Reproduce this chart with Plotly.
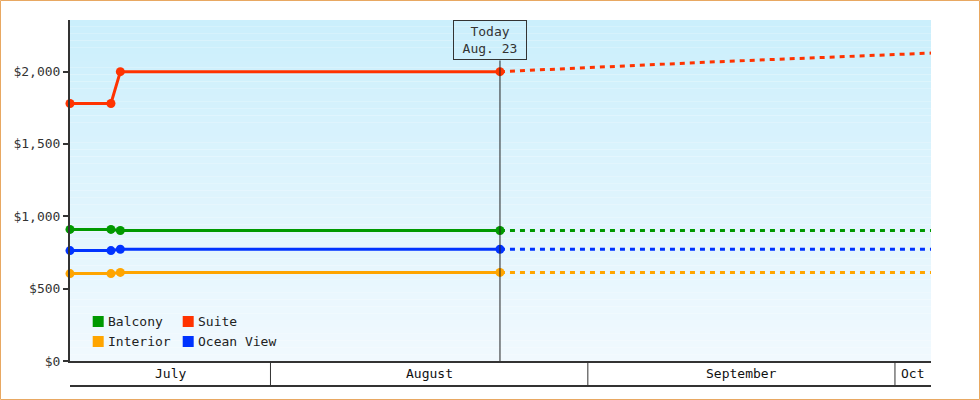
import pandas as pd
import plotly.graph_objects as go

# dados
series = ["Balcony", "Suite", "Interior", "Ocean View"]
colors = ["#009900", "#ff3300", "#ffa500", "#0033ff"]

actual_dates = ["2023-07-12 10:00", "2023-07-16 10:00", "2023-07-17 08:00", "2023-08-23 10:00"]
balcony = [909, 909, 902, 902]
suite = [1779, 1779, 1999, 1999]
interior = [604, 604, 612, 612]
ocean_view = [763, 763, 772, 772]

forecast_dates = ["2023-08-23 10:00", "2023-09-13 10:00", "2023-10-05 10:00"]
balcony_fc = [902, 902, 902]
suite_fc = [1999, 2067, 2130]
interior_fc = [612, 612, 612]
ocean_view_fc = [772, 772, 772]

today = "2023-08-23 10:00"
today_label = "Today<br>Aug. 23"
x_end = "2023-10-04 12:30"

months = ["2023-07-01", "2023-08-01", "2023-09-01", "2023-10-01", "2023-11-01"]
month_names = ["July", "August", "September", "Oct"]

y_ticks = [0, 500, 1000, 1500, 2000]
y_max = 2356

actual = [balcony, suite, interior, ocean_view]
forecast = [balcony_fc, suite_fc, interior_fc, ocean_view_fc]

FONT = "DejaVu Sans Mono"
DARK = "#333333"

fig = go.Figure()

for name, col, yf in zip(series, colors, forecast):
    fig.add_trace(go.Scatter(
        x=forecast_dates, y=yf, mode="lines", name=name, showlegend=False,
        line=dict(color=col, width=3, dash="5px,5px"), hoverinfo="skip"))
for name, col, ya in zip(series, colors, actual):
    fig.add_trace(go.Scatter(
        x=actual_dates, y=ya, mode="lines+markers", name=name, showlegend=False,
        cliponaxis=False,
        line=dict(color=col, width=3), marker=dict(color=col, size=9)))

# fundo em degrade
shapes = []
n = 50
c0 = (203, 239, 252)
c1 = (241, 249, 254)
for i in range(n):
    t = i / (n - 1)
    c = tuple(round(c0[k] + (c1[k] - c0[k]) * t) for k in range(3))
    shapes.append(dict(type="rect", xref="paper", yref="paper", x0=0, x1=1,
                       y0=1 - (i + 1) / n, y1=1 - i / n, layer="below",
                       line=dict(width=0), fillcolor="rgb(%d,%d,%d)" % c))

W, H = 861, 341
band = -25 / H

# faixa dos meses
shapes.append(dict(type="line", xref="paper", yref="paper", x0=0, x1=1, y0=band, y1=band,
                   line=dict(color=DARK, width=2)))
x_start = pd.Timestamp(actual_dates[0])
x_stop = pd.Timestamp(x_end)
annotations = []
for i, m in enumerate(month_names):
    a = max(pd.Timestamp(months[i]), x_start)
    b = min(pd.Timestamp(months[i + 1]), x_stop)
    if pd.Timestamp(months[i]) > x_start:
        shapes.append(dict(type="line", xref="x", yref="paper", x0=months[i], x1=months[i],
                           y0=0, y1=band, line=dict(color=DARK, width=1)))
    annotations.append(dict(x=a + (b - a) / 2, y=band / 2, xref="x", yref="paper", text=m,
                            showarrow=False, yanchor="middle",
                            font=dict(family=FONT, size=13, color="#111")))

# linha de hoje
shapes.append(dict(type="line", xref="x", yref="paper", x0=today, x1=today,
                   y0=0, y1=1 - 40.5 / H, line=dict(color="#222222", width=1)))
annotations.append(dict(x=today, y=1, xref="x", yref="paper", text=today_label,
                        showarrow=False, yanchor="top", xshift=-10, width=70, height=36,
                        bordercolor=DARK, borderwidth=1, borderpad=1,
                        font=dict(family=FONT, size=13, color=DARK)))

# legenda
leg_x = [22.7, 112.7]
leg_y = [320.5, 340.5]
for i, (name, col) in enumerate(zip(series, colors)):
    px = leg_x[i % 2]
    py = leg_y[i // 2]
    shapes.append(dict(type="rect", xref="paper", yref="paper",
                       x0=px / W, x1=(px + 11) / W,
                       y0=(360 - py - 5.5) / H, y1=(360 - py + 5.5) / H,
                       fillcolor=col, line=dict(width=0)))
    annotations.append(dict(x=(px + 13) / W, y=(360 - py) / H, xref="paper", yref="paper",
                            text=name, showarrow=False, xanchor="left", yanchor="middle",
                            font=dict(family=FONT, size=13, color="#222")))

# borda externa
shapes.append(dict(type="rect", xref="paper", yref="paper",
                   x0=-69.5 / W, x1=(979.5 - 70) / W,
                   y0=-38.5 / H, y1=1 + 19.5 / H,
                   line=dict(color="#e8a862", width=1)))

fig.update_layout(
    width=980, height=400,
    margin=dict(l=70, r=49, t=20, b=39),
    paper_bgcolor="white", plot_bgcolor="white",
    font=dict(family=FONT, size=13, color=DARK),
    showlegend=False,
    shapes=shapes, annotations=annotations,
    xaxis=dict(type="date", range=[actual_dates[0], x_end], showgrid=False,
               showticklabels=False, ticks="", showline=True, linecolor=DARK,
               linewidth=2, zeroline=False),
    yaxis=dict(range=[0, y_max], tickvals=y_ticks,
               ticktext=["${:,}".format(v) for v in y_ticks],
               showgrid=False, zeroline=False, showline=True, linecolor=DARK,
               linewidth=2, ticks="outside", ticklen=5, tickwidth=2, tickcolor=DARK,
               tickfont=dict(family=FONT, size=13, color=DARK)),
)

fig.write_html("out.html", config={"displayModeBar": False},
               post_script="document.body.style.margin='0';")
